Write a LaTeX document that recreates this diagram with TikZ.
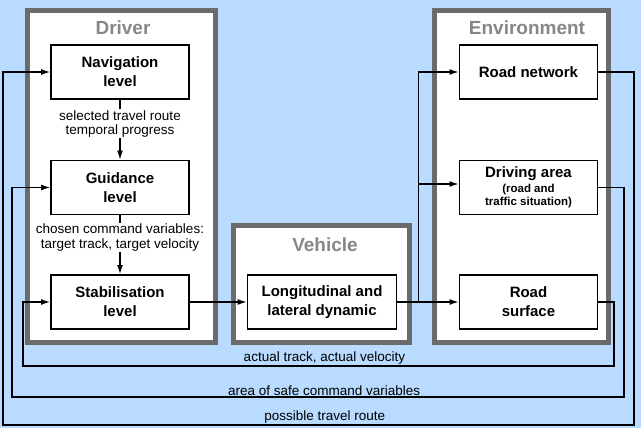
\documentclass[tikz,border=0pt]{standalone}
\usepackage{fontspec}
\setmainfont{Liberation Sans}
\usetikzlibrary{arrows.meta,calc}

\definecolor{skyback}{RGB}{184,219,255}
\definecolor{titlegray}{RGB}{135,135,135}

\newcommand{\bigdetail}{\fontsize{15}{17}\selectfont}

\tikzset{
    level/.style={draw, line width=1.8pt, fill=white, minimum width=138pt, minimum height=54pt,
        inner sep=0pt, align=center, font=\bfseries\fontsize{15}{19}\selectfont},
    group/.style={draw=black!58, line width=5pt, fill=white, inner sep=0pt},
    grouptitle/.style={text=titlegray, font=\bfseries\fontsize{19}{22}\selectfont},
    flowlabel/.style={fill=white, align=center, inner sep=1pt, font=\fontsize{13.5}{14.5}\selectfont},
    looplabel/.style={inner sep=1pt, font=\fontsize{13.5}{14.5}\selectfont},
    flow/.style={line width=1.3pt, -{Latex[length=9pt,width=6pt]}},
    wire/.style={line width=1.3pt}
}

\begin{document}
\begin{tikzpicture}[x=1pt,y=-1pt]

            \fill[skyback] (0,0) rectangle (641,428);
            \useasboundingbox (0,0) rectangle (641,428);

            \node (driverbox) [group, minimum width=188pt, minimum height=332pt] at (121.5,176.5) {};
            \node (vehiclebox) [group, minimum width=176pt, minimum height=117pt] at (321.5,284) {};
            \node (envbox) [group, minimum width=174pt, minimum height=332pt] at (521.5,176.5) {};

            \node (drivertitle) [grouptitle] at (123,28) {Driver};
            \node (vehicletitle) [grouptitle] at (325,245) {Vehicle};
            \node (envtitle) [grouptitle] at (527,28) {Environment};

            \node (nav) [level] at (120,72) {Navigation\\level};
            \node (guid) [level] at (120,187.5) {Guidance\\level};
            \node (stab) [level] at (120,302) {Stabilisation\\level};
            \node (long) [level, minimum width=149pt] at (322,302) {Longitudinal and\\lateral dynamic};
            \node (road) [level] at (528.5,72) {Road network};
            \node (drive) [level, font=\bfseries\fontsize{11.5}{13.5}\selectfont] at (528.5,187.5)
                {{\bigdetail Driving area}\\[1.5pt](road and\\traffic situation)};
            \node (surface) [level] at (528.5,302) {Road\\surface};

            \draw[flow] (nav) -- node[flowlabel, pos=0.4]{selected travel route\\temporal progress} (guid);
            \draw[flow] (guid) -- node[flowlabel, pos=0.375]{chosen command variables:\\target track, target velocity} (stab);

            \draw[flow] (stab) -- (long);
            \draw[flow] (long) -- (surface);
            \coordinate (branch) at ($(long.east)!0.35!(surface.west)$);
            \draw[flow] (branch) |- (road.west);
            \draw[flow] ($(branch |- drive.west)+(0,-3.5)$) -- ($(drive.west)+(0,-3.5)$);

            \coordinate (outerR) at (634,425);
            \coordinate (outerL) at (3,425);
            \coordinate (midR) at (624,397);
            \coordinate (midL) at (12,397);
            \coordinate (innerR) at (614,366);
            \coordinate (innerL) at (23,366);

            \draw[flow] (road.east) -| (outerR) -- node[looplabel, above, pos=0.49]{possible travel route} (outerL) |- (nav.west);
            \draw[flow] (drive.east) -| (midR) -- node[looplabel, above, pos=0.49]{area of safe command variables} (midL) |- (guid.west);
            \draw[flow] (surface.east) -| (innerR) -- node[looplabel, above, pos=0.49]{actual track, actual velocity} (innerL) |- (stab.west);

        \end{tikzpicture}
\end{document}
